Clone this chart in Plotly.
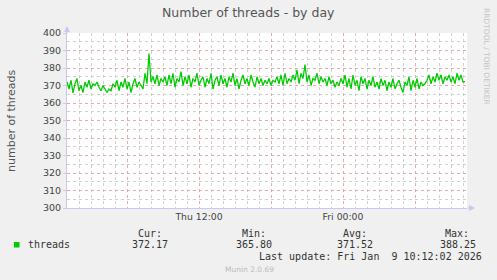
import plotly.graph_objects as go
import pandas as pd

# ---- data ----
start_time = "2026-01-08 01:00"
step_minutes = 10
threads = [
    372, 368, 373, 365.8, 371, 374, 367, 370, 366, 372,
    369, 373, 368, 371, 370, 372, 369, 367, 370, 368,
    366, 368, 367, 371, 369, 373, 367, 372, 369, 374,
    368, 372, 366, 371, 374, 369, 372, 370, 368, 377,
    371, 388.25, 372, 375, 371, 376, 370, 374, 372, 375,
    370, 376, 371, 377, 369, 374, 372, 378, 370, 375,
    371, 376, 369, 374, 372, 377, 370, 373, 375, 369,
    374, 371, 377, 368, 373, 375, 370, 376, 371, 374,
    369, 375, 372, 377, 370, 374, 368, 373, 376, 371,
    374, 370, 376, 372, 369, 375, 371, 374, 370, 373,
    371, 374, 370, 373, 372, 375, 371, 376, 370, 377,
    371, 374, 372, 376, 373, 379, 371, 377, 374, 382,
    372, 376, 370, 374, 373, 377, 371, 375, 372, 374,
    370, 375, 371, 373, 369, 372, 370, 374, 371, 376,
    369, 374, 368, 376, 370, 373, 367, 375, 371, 374,
    368, 373, 370, 375, 369, 372, 368, 374, 370, 373,
    367, 372, 369, 374, 368, 371, 373, 369, 366, 372,
    370, 375, 367, 373, 369, 374, 368, 372, 370, 371,
    373, 376, 371, 375, 372, 377, 373, 376, 371, 375,
    373, 376, 372, 375, 371, 377, 373, 376, 372, 372.17,
]
x_range = ["2026-01-08 01:00", "2026-01-09 10:20"]
x_tickvals = ["2026-01-08 06:00", "2026-01-08 12:00", "2026-01-08 18:00",
              "2026-01-09 00:00", "2026-01-09 06:00"]
x_ticktext = ["", "Thu 12:00", "", "Fri 00:00", ""]
y_tickvals = [300, 310, 320, 330, 340, 350, 360, 370, 380, 390, 400]
stat_headers = ["Cur:", "Min:", "Avg:", "Max:"]
stat_values = ["372.17", "365.80", "371.52", "388.25"]
series_name = "threads"
last_update = "Last update: Fri Jan  9 10:12:02 2026"

times = pd.date_range(start_time, periods=len(threads), freq=f"{step_minutes}min")

# ---- layout helpers (pixel -> paper) ----
W, H = 497, 280
PL, PR, PT, PB = 67, 467, 33, 208
def px(x):
    return (x - PL) / (PR - PL)
def py(y):
    return (PB - y) / (PB - PT)

AXIS_C = "#c8c8f0"
MAJOR_C = "rgba(232,150,150,0.6)"
MINOR_C = "#d0d0d0"
TXT = "#555555"
MONO = "DejaVu Sans Mono"
SANS = "DejaVu Sans"

fig = go.Figure()
fig.add_trace(go.Scatter(x=times, y=threads, mode="lines",
                         line=dict(color="#00cc00", width=1.3),
                         name=series_name, showlegend=False))

fig.update_layout(
    width=W, height=H,
    margin=dict(l=PL, r=W - PR, t=PT, b=H - PB, pad=0),
    paper_bgcolor="#f0f0f0", plot_bgcolor="#ffffff",
    font=dict(family=SANS, color=TXT),
    showlegend=False,
)
fig.update_xaxes(
    type="date", range=x_range,
    tickmode="array", tickvals=x_tickvals, ticktext=x_ticktext,
    showgrid=True, gridcolor=MAJOR_C, griddash="dot", gridwidth=1,
    minor=dict(dtick=3600000, showgrid=True, gridcolor=MINOR_C, griddash="dot", gridwidth=1),
    showline=True, linecolor=AXIS_C, linewidth=1,
    ticks="", tickfont=dict(size=9.3, color="#444444"),
    zeroline=False, fixedrange=True,
)
fig.update_yaxes(
    range=[300, 400], tickmode="array", tickvals=y_tickvals,
    showgrid=True, gridcolor=MAJOR_C, griddash="dot", gridwidth=1,
    minor=dict(dtick=5, showgrid=True, gridcolor=MINOR_C, griddash="dot", gridwidth=1),
    showline=True, linecolor=AXIS_C, linewidth=1,
    ticks="outside", ticklen=3, tickcolor=MINOR_C,
    tickfont=dict(size=9.5, color="#444444"),
    zeroline=False, fixedrange=True,
)

ann = []
# title
ann.append(dict(x=px(248.5), y=py(13), xref="paper", yref="paper", text="Number of threads - by day",
                showarrow=False, xanchor="center", yanchor="middle",
                font=dict(family=SANS, size=12.5, color="#555555")))
# y title
ann.append(dict(x=px(11), y=py(120), xref="paper", yref="paper", text="number of threads",
                showarrow=False, textangle=-90, xanchor="center", yanchor="middle",
                font=dict(family=SANS, size=11, color="#555555")))
# rrdtool credit
ann.append(dict(x=px(487), y=py(56), xref="paper", yref="paper", text="RRDTOOL / TOBI OETIKER",
                showarrow=False, textangle=90, xanchor="center", yanchor="middle",
                font=dict(family=SANS, size=7.5, color="#c4c4c4")))
# axis arrows
ann.append(dict(x=px(475), y=py(208), xref="paper", yref="paper", text="", showarrow=True,
                ax=-9, ay=0, arrowhead=2, arrowsize=1, arrowwidth=1.2, arrowcolor=AXIS_C))
ann.append(dict(x=px(67), y=py(26), xref="paper", yref="paper", text="", showarrow=True,
                ax=0, ay=9, arrowhead=2, arrowsize=1, arrowwidth=1.2, arrowcolor=AXIS_C))
# legend
ann.append(dict(x=px(27), y=py(244.5), xref="paper", yref="paper", text=series_name,
                showarrow=False, xanchor="left", yanchor="middle", borderpad=0,
                font=dict(family=MONO, size=10, color="#333333")))
head_right = [163, 267, 368, 470]
val_right = [169, 273, 374, 477]
for h, v, hr, vr in zip(stat_headers, stat_values, head_right, val_right):
    ann.append(dict(x=px(hr), y=py(233), xref="paper", yref="paper", text=h,
                    showarrow=False, xanchor="right", yanchor="middle", borderpad=0,
                    font=dict(family=MONO, size=10, color="#333333")))
    ann.append(dict(x=px(vr), y=py(244.5), xref="paper", yref="paper", text=v,
                    showarrow=False, xanchor="right", yanchor="middle", borderpad=0,
                    font=dict(family=MONO, size=10, color="#333333")))
ann.append(dict(x=px(483), y=py(256.7), xref="paper", yref="paper", text=last_update.replace("  ", "&nbsp; "),
                showarrow=False, xanchor="right", yanchor="middle", borderpad=0,
                font=dict(family=MONO, size=10, color="#333333")))
ann.append(dict(x=px(249), y=py(269), xref="paper", yref="paper", text="Munin 2.0.69",
                showarrow=False, xanchor="center", yanchor="middle",
                font=dict(family=SANS, size=7.5, color="#bbbbbb")))
fig.update_layout(annotations=ann)

fig.add_shape(type="rect", xref="paper", yref="paper",
              x0=px(14), x1=px(19.5), y0=py(247.5), y1=py(242),
              fillcolor="#00cc00", line=dict(width=0))

fig.write_html("out.html", config={"displayModeBar": False})
